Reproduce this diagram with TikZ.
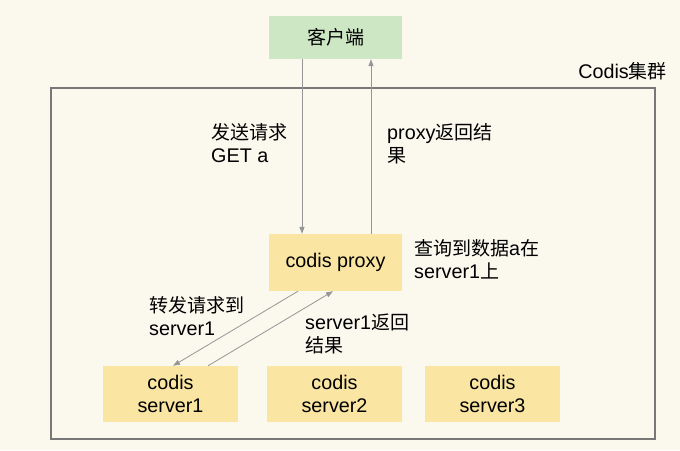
\documentclass[tikz,border=0pt]{standalone}
\usepackage{fontspec}
\setmainfont{Liberation Sans}[Scale=1.04]
\newfontfamily\cjk{Noto Sans CJK SC}
\usetikzlibrary{arrows.meta,positioning,calc}
\definecolor{bgcream}{RGB}{251,248,238}
\definecolor{clientgreen}{RGB}{205,231,196}
\definecolor{codisyellow}{RGB}{250,230,162}
\definecolor{framegray}{RGB}{120,120,120}
\definecolor{linkgray}{RGB}{150,150,150}
\newcommand{\zh}[1]{{\cjk #1}}
\tikzset{
  box/.style={minimum width=133pt, inner sep=0pt, align=center, font=\fontsize{19}{23}\selectfont},
  note/.style={anchor=west, align=left, inner sep=0pt, font=\fontsize{19}{23}\selectfont},
  link/.style={linkgray, line width=0.8pt, -{Triangle[length=7pt,width=5pt]}}
}

\begin{document}
\begin{tikzpicture}[x=1pt,y=-1pt]
        \fill[bgcream] (0,0) rectangle (680,450);
        \useasboundingbox (0,0) rectangle (680,450);
        \draw[framegray, line width=2pt] (51,88) rectangle (655,439);
        \node[note, anchor=east] (cluster) at (667,71) {Codis\zh{集群}};
        \node[box, fill=clientgreen, minimum height=43pt] (client) at (335.5,37.5) {\zh{客户端}};
        \node[box, fill=codisyellow, minimum height=57pt] (proxy) at (335.5,262.5) {codis proxy};
        \foreach \n/\x in {1/170.5, 2/334.5, 3/492.5} {
          \node[box, fill=codisyellow, minimum width=135pt, minimum height=56pt] (server\n) at (\x,394) {codis\\server\n};
        }
        \draw[link] ([xshift=-33.5pt]client.south) -- ([xshift=-33.5pt]proxy.north);
        \draw[link] ([xshift=35.5pt]proxy.north) -- ([xshift=35.5pt]client.south);
        \draw[link] ([xshift=-37.5pt]proxy.south) -- ([xshift=2.5pt]server1.north);
        \draw[link] ([xshift=37.5pt]server1.north) -- ([xshift=-2.5pt]proxy.south);
        \node[note] (sendreq) at (211,143.5) {\zh{发送请求}\\GET a};
        \node[note] (proxyret) at (387,143.5) {proxy\zh{返回结}\\\zh{果}};
        \node[note] (lookup) at (414,259.5) {\zh{查询到数据}a\zh{在}\\server1\zh{上}};
        \node[note] (forward) at (149,316.5) {\zh{转发请求到}\\server1};
        \node[note] (srvret) at (305,334) {server1\zh{返回}\\\zh{结果}};
      \end{tikzpicture}
\end{document}
